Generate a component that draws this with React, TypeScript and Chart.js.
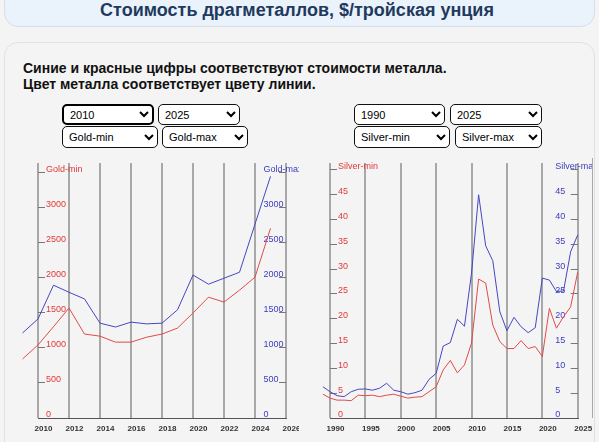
import React, { useEffect, useRef } from "react";
import { Chart, registerables } from "chart.js";

Chart.register(...registerables);

if (typeof document !== "undefined") {
  document.body.style.margin = "0";
  document.body.style.overflow = "hidden";
  document.body.style.background = "#f4f4f4";
}

// ---------- DATA ----------
const goldYears = [2009, 2010, 2011, 2012, 2013, 2014, 2015, 2016, 2017, 2018, 2019, 2020, 2021, 2022, 2023, 2024, 2025];
const goldMin = [840, 1040, 1300, 1565, 1195, 1165, 1080, 1080, 1150, 1195, 1280, 1495, 1720, 1650, 1820, 2005, 2700];
const goldMax = [1210, 1410, 1890, 1790, 1695, 1350, 1295, 1365, 1340, 1350, 1540, 2035, 1905, 1990, 2075, 2760, 3440];
const goldYTicks = [0, 500, 1000, 1500, 2000, 2500, 3000, 3500];

const silverYears = [
  1988, 1989, 1990, 1991, 1992, 1993, 1994, 1995, 1996, 1997, 1998, 1999, 2000, 2001, 2002, 2003, 2004, 2005, 2006,
  2007, 2008, 2009, 2010, 2011, 2012, 2013, 2014, 2015, 2016, 2017, 2018, 2019, 2020, 2021, 2022, 2023, 2024, 2025,
];
const silverMin = [
  6.0, 4.8, 4.0, 3.6, 3.6, 3.5, 4.6, 4.5, 4.6, 4.3, 4.6, 4.8, 4.4, 4.0, 4.2, 4.3, 5.3, 6.3, 9.7, 11.6, 9.1, 10.7, 15.1,
  28.0, 27.2, 18.75, 15.4, 14.0, 14.0, 15.6, 14.0, 14.4, 12.4, 22.1, 18.1, 20.4, 22.4, 29.4,
];
const silverMax = [
  7.8, 6.3, 5.3, 4.5, 4.3, 5.3, 5.8, 5.85, 5.6, 6.0, 7.0, 5.6, 5.3, 4.8, 5.1, 5.6, 7.8, 9.0, 14.5, 15.2, 19.9, 18.5,
  29.2, 45, 34.7, 31.7, 21.4, 17.6, 20.3, 18.4, 17.2, 18.2, 28.2, 27.8, 25.5, 25.6, 33.5, 36.9,
];
const silverYTicks = [0, 5, 10, 15, 20, 25, 30, 35, 40, 45, 50];

const goldXMin = 2010;
const goldXMax = 2026;
const goldXStep = 2;
const goldYMax = 3630;

const silverXMin = 1990;
const silverXMax = 2025;
const silverXStep = 5;
const silverYMax = 51.4;

const yearOptionsGold = ["2010", "2015", "2020", "2025"];
const yearOptionsSilver = ["1990", "2000", "2010", "2020", "2025"];
const goldSeriesOptions = ["Gold-min", "Gold-max"];
const silverSeriesOptions = ["Silver-min", "Silver-max"];

// ---------- STYLE ----------
const FONT = "Arial, 'Liberation Sans', sans-serif";
const RED = "#e03838";
const BLUE = "#3c3cc0";
const RED_LINE = "#e04a4a";
const BLUE_LINE = "#4646c0";
const TICK_FONT_SIZE = 9;

type Cfg = {
  years: number[];
  minVals: number[];
  maxVals: number[];
  xMin: number;
  xMax: number;
  xStep: number;
  yMax: number;
  yTicks: number[];
  minLabel: string;
  maxLabel: string;
  padL: number;
  padR: number;
};

function measureWidest(labels: string[]): number {
  const c = document.createElement("canvas");
  const ctx = c.getContext("2d");
  if (!ctx) return 40;
  ctx.font = TICK_FONT_SIZE + "px " + FONT;
  let w = 0;
  for (const l of labels) w = Math.max(w, ctx.measureText(l).width);
  return w;
}

function zeroPad(s: any) {
  s.paddingTop = 0;
  s.paddingBottom = 0;
  s.paddingLeft = 0;
  s.paddingRight = 0;
}

function makeConfig(c: Cfg): any {
  const tickColor = "#777";
  const top = c.yTicks[c.yTicks.length - 1];
  const rightLabels = c.yTicks.map((v) => (v === top ? c.maxLabel : String(v)));
  const widest = measureWidest(rightLabels);
  const setTicks = (s: any) => {
    s.ticks = c.yTicks.map((v) => ({ value: v }));
  };
  return {
    type: "line",
    data: {
      datasets: [
        {
          label: c.minLabel,
          data: c.years.map((y, i) => ({ x: y, y: c.minVals[i] })),
          borderColor: RED_LINE,
          borderWidth: 1,
          pointRadius: 0,
          tension: 0,
          clip: false,
          yAxisID: "y",
        },
        {
          label: c.maxLabel,
          data: c.years.map((y, i) => ({ x: y, y: c.maxVals[i] })),
          borderColor: BLUE_LINE,
          borderWidth: 1,
          pointRadius: 0,
          tension: 0,
          clip: false,
          yAxisID: "y2",
        },
      ],
    },
    options: {
      animation: false,
      responsive: false,
      devicePixelRatio: 1,
      layout: { padding: { left: c.padL, right: c.padR, top: 13, bottom: 8 } },
      plugins: { legend: { display: false }, tooltip: { enabled: false } },
      scales: {
        x: {
          type: "linear",
          min: c.xMin,
          max: c.xMax,
          afterFit: (s: any) => {
            s.height = 16;
            zeroPad(s);
          },
          border: { display: true, color: "#555", width: 1 },
          grid: { color: "#a8a8a8", lineWidth: 2, drawTicks: false },
          ticks: {
            stepSize: c.xStep,
            autoSkip: false,
            maxRotation: 0,
            labelOffset: 5.5,
            padding: 6,
            color: "#333",
            font: { family: FONT, size: 8, weight: "bold" },
            callback: (v: any) => String(v),
          },
        },
        y: {
          type: "linear",
          position: "left",
          min: 0,
          max: c.yMax,
          afterBuildTicks: setTicks,
          afterFit: (s: any) => {
            s.width = 1;
            zeroPad(s);
          },
          border: { display: false },
          grid: { drawOnChartArea: false, drawTicks: true, tickLength: -7, color: tickColor, lineWidth: 1 },
          ticks: {
            autoSkip: false,
            mirror: true,
            padding: 8,
            crossAlign: "near",
            labelOffset: -3,
            color: RED,
            font: { family: FONT, size: TICK_FONT_SIZE },
            callback: (v: any) => (v === top ? c.minLabel : String(v)),
          },
        },
        y2: {
          type: "linear",
          position: "right",
          min: 0,
          max: c.yMax,
          afterBuildTicks: setTicks,
          afterFit: (s: any) => {
            s.width = 1;
            zeroPad(s);
          },
          border: { display: false },
          grid: { drawOnChartArea: false, drawTicks: true, tickLength: -7, color: tickColor, lineWidth: 1 },
          ticks: {
            autoSkip: false,
            mirror: true,
            padding: widest - 22.5,
            crossAlign: "far",
            labelOffset: -3,
            color: BLUE,
            font: { family: FONT, size: TICK_FONT_SIZE },
            callback: (v: any) => (v === top ? c.maxLabel : String(v)),
          },
        },
      },
    },
  };
}

function MetalChart(props: { left: number; top: number; width: number; height: number; cfg: Cfg }) {
  const ref = useRef<HTMLCanvasElement | null>(null);
  useEffect(() => {
    if (!ref.current) return;
    const chart = new Chart(ref.current, makeConfig(props.cfg));
    return () => chart.destroy();
  }, []);
  return (
    <canvas
      ref={ref}
      width={props.width}
      height={props.height}
      style={{ position: "absolute", left: props.left, top: props.top, width: props.width, height: props.height }}
    />
  );
}

function Sel(props: { left: number; top: number; width: number; height: number; value: string; options: string[]; focus?: boolean }) {
  return (
    <select
      defaultValue={props.value}
      style={{
        position: "absolute",
        left: props.left,
        top: props.top,
        width: props.width,
        height: props.height,
        boxSizing: "border-box",
        fontFamily: FONT,
        fontSize: 11,
        color: "#000",
        background: "#fff",
        border: props.focus ? "2px solid #000" : "1px solid #111",
        borderRadius: 5,
        padding: "0 2px",
        margin: 0,
      }}
    >
      {props.options.map((o) => (
        <option key={o} value={o}>
          {o}
        </option>
      ))}
    </select>
  );
}

export default function App() {
  const gold: Cfg = {
    years: goldYears,
    minVals: goldMin,
    maxVals: goldMax,
    xMin: goldXMin,
    xMax: goldXMax,
    xStep: goldXStep,
    yMax: goldYMax,
    yTicks: goldYTicks,
    minLabel: "Gold-min",
    maxLabel: "Gold-max",
    padL: 22,
    padR: 12,
  };
  const silver: Cfg = {
    years: silverYears,
    minVals: silverMin,
    maxVals: silverMax,
    xMin: silverXMin,
    xMax: silverXMax,
    xStep: silverXStep,
    yMax: silverYMax,
    yTicks: silverYTicks,
    minLabel: "Silver-min",
    maxLabel: "Silver-max",
    padL: 24,
    padR: 13.3,
  };
  return (
    <div
      style={{
        position: "relative",
        width: 599,
        height: 442,
        overflow: "hidden",
        background: "#f4f4f4",
        fontFamily: FONT,
      }}
    >
      <div
        style={{
          position: "absolute",
          left: 4,
          top: -16,
          width: 591,
          height: 43,
          boxSizing: "border-box",
          background: "#eaf3fc",
          border: "1px solid #d4dfea",
          borderRadius: 14,
        }}
      />
      <div
        style={{
          position: "absolute",
          left: 0,
          top: 0,
          width: 594,
          textAlign: "center",
          fontFamily: FONT,
          fontWeight: "bold",
          fontSize: 18,
          lineHeight: "20px",
          color: "#1f3a5c",
        }}
      >
        Стоимость драгметаллов, $/тройская унция
      </div>
      <div
        style={{
          position: "absolute",
          left: 4,
          top: 42,
          width: 591,
          height: 440,
          boxSizing: "border-box",
          background: "#f4f4f4",
          border: "1px solid #dce2e9",
          borderRadius: 14,
        }}
      />
      <div
        style={{
          position: "absolute",
          left: 23,
          top: 60,
          fontFamily: FONT,
          fontWeight: "bold",
          fontSize: 14,
          lineHeight: "16px",
          color: "#111",
          whiteSpace: "nowrap",
        }}
      >
        Синие и красные цифры соответствуют стоимости металла.
        <br />
        Цвет металла соответствует цвету линии.
      </div>

      <Sel left={62} top={104} width={92} height={21} value="2010" options={yearOptionsGold} focus />
      <Sel left={158} top={104} width={82} height={21} value="2025" options={yearOptionsGold} />
      <Sel left={62} top={126} width={96} height={22} value="Gold-min" options={goldSeriesOptions} />
      <Sel left={162} top={126} width={86} height={22} value="Gold-max" options={goldSeriesOptions} />

      <Sel left={354} top={104} width={91} height={21} value="1990" options={yearOptionsSilver} />
      <Sel left={450} top={104} width={92} height={21} value="2025" options={yearOptionsSilver} />
      <Sel left={354} top={126} width={96} height={22} value="Silver-min" options={silverSeriesOptions} />
      <Sel left={455} top={126} width={87} height={22} value="Silver-max" options={silverSeriesOptions} />

      <MetalChart left={15} top={150} width={284} height={292} cfg={gold} />
      <MetalChart left={305} top={150} width={287} height={292} cfg={silver} />

      <div style={{ position: "absolute", left: 592, top: 158, width: 1, height: 260, background: "#a8a8a8" }} />
    </div>
  );
}
